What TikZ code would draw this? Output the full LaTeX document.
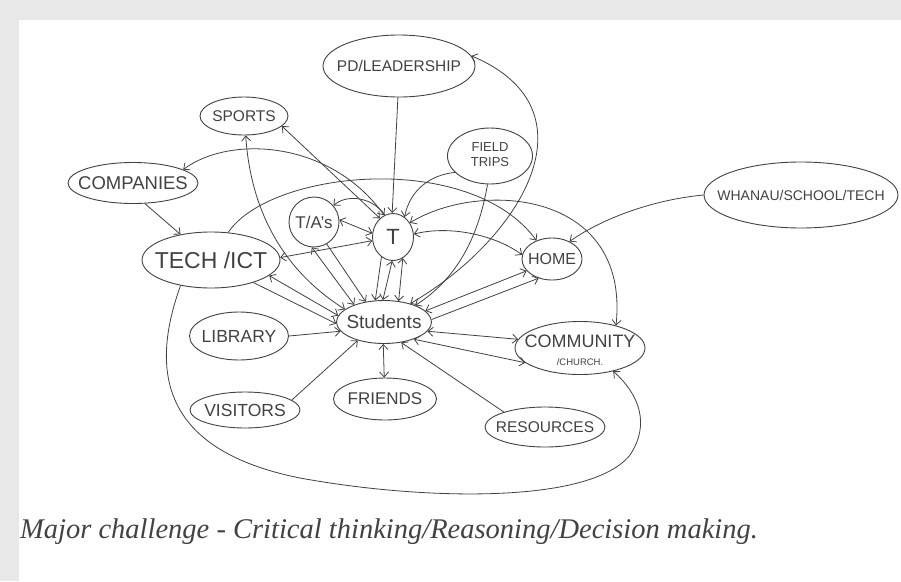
\documentclass[tikz,border=0pt]{standalone}
\usepackage{fontspec}
\setmainfont{Liberation Sans}
\newfontfamily\handfont{Liberation Serif}
\usetikzlibrary{shapes.geometric,arrows.meta}
\definecolor{ink}{RGB}{66,66,66}
\newcommand{\lbl}[2]{\makebox[0pt]{\fontsize{#1}{#1}\selectfont #2}}

\begin{document}
\begin{tikzpicture}[x=1pt, y=-1pt,
    >={Straight Barb[length=5pt,width=9pt]},
    bubble/.style={ellipse, draw=ink, line width=0.9pt, inner sep=0pt, text=ink},
    link/.style={draw=ink, line width=0.8pt}]
    % page
    \useasboundingbox (0,0) rectangle (901,581);
    \fill[gray!18] (0,0) rectangle (901,581);
    \fill[white] (19,20) rectangle (901,581);

    % outer topics
    \node[bubble, minimum width=152, minimum height=62] (pd) at (399,66) {\lbl{15.5}{PD/LEADERSHIP}};
    \node[bubble, minimum width=88, minimum height=38] (sports) at (244,116) {\lbl{15.5}{SPORTS}};
    \node[bubble, minimum width=85, minimum height=56] (field) at (490,156) {\lbl{13}{\begin{tabular}{@{}c@{}}FIELD\\[2pt]TRIPS\end{tabular}}};
    \node[bubble, minimum width=130, minimum height=41] (companies) at (133,183) {\lbl{18.5}{COMPANIES}};
    \node[bubble, minimum width=194, minimum height=66] (whanau) at (801,195) {\lbl{14}{WHANAU/SCHOOL/TECH}};

    % inner topics
    \node[bubble, minimum width=138, minimum height=56] (tech) at (211,260) {\lbl{23}{TECH /ICT}};
    \node[bubble, minimum width=50, minimum height=50] (ta) at (314,222) {\lbl{17}{T/A's}};
    \node[bubble, minimum width=41, minimum height=47] (t) at (393,237) {\lbl{22}{T}};
    \node[bubble, minimum width=60, minimum height=42] (home) at (552,259) {\lbl{16}{HOME}};
    \node[bubble, minimum width=95, minimum height=43] (students) at (384,322) {\lbl{19}{Students}};
    \node[bubble, minimum width=99, minimum height=48] (library) at (239,336) {\lbl{17.5}{LIBRARY}};
    \node[bubble, minimum width=130, minimum height=53] (community) at (580,348) {\lbl{18}{\raisebox{-9pt}[0pt][0pt]{\begin{tabular}{@{}c@{}}COMMUNITY\\{\fontsize{9.5}{9.5}\selectfont /CHURCH.}\end{tabular}}}};
    \node[bubble, minimum width=110, minimum height=36] (visitors) at (245,410) {\lbl{17.5}{VISITORS}};
    \node[bubble, minimum width=103, minimum height=42] (friends) at (385,399) {\lbl{17}{FRIENDS}};
    \node[bubble, minimum width=120, minimum height=40] (resources) at (545,427) {\lbl{15.5}{RESOURCES}};

    % links from the top
    \draw[link,->] (pd.268) -- (t.92);
    \draw[link,<->] (students.35) .. controls (520,240) and (600,110) .. (pd.8);
    \draw[link,->] (field.265) .. controls (478,240) and (455,280) .. (students.28);
    \draw[link,->] (field.205) .. controls (430,175) and (410,190) .. (t.60);
    \draw[link,<->] (sports.275) .. controls (250,200) and (275,265) .. (students.162);
    \draw[link,<->] (sports.-15) -- (t.125);
    \draw[link,<->] (companies.15) .. controls (230,135) and (330,140) .. (t.112);
    \draw[link,->] (companies.-60) -- (tech.140);
    \draw[link,->] (tech.58) .. controls (270,170) and (470,150) .. (home.130);
    \draw[link,<->] (t.40) .. controls (480,180) and (630,190) .. (community.32);
    \draw[link,->] (whanau.180) .. controls (650,200) and (600,220) .. (home.45);

    % T/A's and T
    \draw[link,<->] (ta.5) -- (t.170);
    \draw[link,->] (t.110) .. controls (370,195) and (345,195) .. (ta.40);
    \draw[link,<->] (tech.2) -- (t.190);
    \draw[link,<->] (t.8) .. controls (450,225) and (495,235) .. (home.172);

    % into Students
    \draw[link,<->] (ta.265) -- (students.150);
    \draw[link,->] (ta.300) -- (students.132);
    \draw[link,->] (t.240) -- (students.112);
    \draw[link,<->] (t.268) -- (students.93);
    \draw[link,<->] (t.295) -- (students.55);
    \draw[link,<->] (students.15) -- (home.205);
    \draw[link,->] (students.3) -- (home.235);
    \draw[link,<->] (students.-12) -- (community.172);
    \draw[link,<->] (students.-30) -- (community.195);
    \draw[link,->] (resources.160) -- (students.-50);
    \draw[link,<->] (friends.92) -- (students.268);
    \draw[link,->] (visitors.12) -- (students.215);
    \draw[link,->] (library.0) -- (students.192);
    \draw[link,<->] (tech.-15) -- (students.172);
    \draw[link,->] (tech.-28) -- (students.182);

    % big loop round the bottom
    \draw[link,->] (tech.220) .. controls (150,370) and (160,450) .. (300,478)
        .. controls (420,500) and (590,505) .. (630,455)
        .. controls (650,425) and (640,395) .. (community.-35);

    % note under the map
    \node[anchor=base west, inner sep=0pt, text=ink] (note) at (20,538)
        {\handfont\itshape\fontsize{28.5}{28.5}\selectfont Major challenge - Critical thinking/Reasoning/Decision making.};
\end{tikzpicture}
\end{document}
